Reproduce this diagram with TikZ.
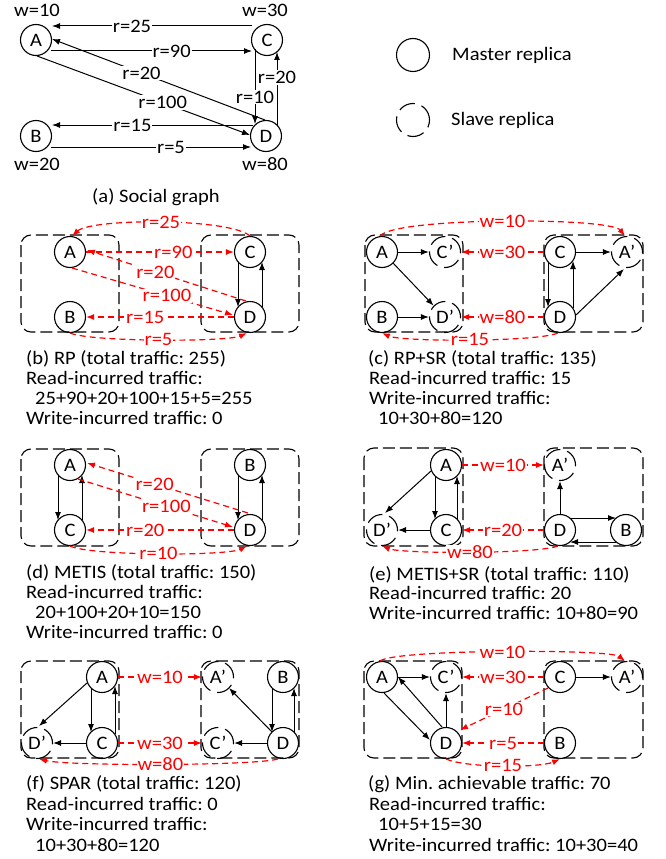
\documentclass[tikz,border=0pt]{standalone}
\usepackage{fontspec}
\setmainfont{Carlito}[FakeStretch=1.08]
\usetikzlibrary{arrows.meta,calc}
\frenchspacing
\begin{document}
\begin{tikzpicture}[x=1pt,y=-1pt,
  every node/.style={font=\fontsize{19}{20}\selectfont\frenchspacing},
  mst/.style={circle,draw,line width=1.1pt,minimum size=31pt,inner sep=0pt},
  slv/.style={mst,dash pattern=on 17pt off 7pt},
  grp/.style={draw,line width=1.1pt,dash pattern=on 12pt off 5pt,rounded corners=10pt},
  arr/.style={line width=1pt,-{Latex[length=8pt,width=6pt]}},
  rarr/.style={red,line width=1.2pt,dash pattern=on 6pt off 4pt,-{Latex[length=8pt,width=6pt]}},
  lab/.style={text=red,fill=white,inner sep=1pt},
  blab/.style={fill=white,inner sep=1pt},
  txt/.style={anchor=base west,inner sep=0pt},
  ctxt/.style={anchor=base,inner sep=0pt}]
\useasboundingbox (0,0) rectangle (665,859);

% ---------------- (a) social graph ----------------
\node[mst] (A) at (36,40) {A};
\node[mst] (C) at (267,40) {C};
\node[mst] (B) at (36,136) {B};
\node[mst] (D) at (266,136) {D};
\node[ctxt] (wA) at (37,17) {w=10};
\node[ctxt] (wC) at (265,17) {w=30};
\node[ctxt] (wB) at (37,170) {w=20};
\node[ctxt] (wD) at (265,170) {w=80};
\node[ctxt] (capa) at (156,202) {(a) Social graph};
\draw[arr] ($(C)+(-15,-14)$) -- node[blab,pos=0.6] (a1) {r=25} ($(A)+(16,-14)$);
\draw[arr] ($(A)+(15,11)$) -- node[blab,pos=0.6] (a2) {r=90} ($(C)+(-15,11)$);
\draw[arr] ($(D)+(-1,-16)$) -- node[blab,pos=0.58] (a3) {r=20} ($(A)+(16,-1)$);
\draw[arr] ($(A)+(1,16)$) -- node[blab,pos=0.59] (a4) {r=100} ($(D)+(-16,-1)$);
\draw[arr] ($(C)+(-12,9)$) -- node[blab,pos=0.64] (a5) {r=10} ($(D)+(-11,-12)$);
\draw[arr] ($(D)+(11,-11)$) -- node[blab,pos=0.65] (a6) {r=20} ($(C)+(10,12)$);
\draw[arr] ($(D)+(-13,-11)$) -- node[blab,pos=0.6] (a7) {r=15} ($(B)+(16,-11)$);
\draw[arr] ($(B)+(15,11)$) -- node[blab,pos=0.6] (a8) {r=5} ($(D)+(-15,11)$);

% ---------------- legend ----------------
\node[mst,minimum size=33pt] (lm) at (413,55) {};
\node[txt] (lmt) at (452,60) {Master replica};
\node[slv,minimum size=33pt] (ls) at (413,120) {};
\node[txt] (lst) at (451,125) {Slave replica};

% ---------------- (b) RP ----------------
\draw[grp] (21,235) rectangle (119,332);
\draw[grp] (201,235) rectangle (299,332);
\node[mst] (bA) at (70,252) {A};
\node[mst] (bB) at (70,317) {B};
\node[mst] (bC) at (250,252) {C};
\node[mst] (bD) at (250,317) {D};
\draw[arr] ($(bC)+(-12,10)$) -- ($(bD)+(-12,-10)$);
\draw[arr] ($(bD)+(12,-10)$) -- ($(bC)+(12,10)$);
\draw[rarr] ($(bC)+(0,-16)$) .. controls +(-20,-18) and +(20,-18) .. node[lab,pos=0.5] (b1) {r=25} ($(bA)+(2,-16)$);
\draw[rarr] (bA.east) -- node[lab,pos=0.59] (b2) {r=90} (bC.west);
\draw[rarr] ($(bD)+(-4,-16)$) -- node[lab,pos=0.57] (b3) {r=20} ($(bA)+(17,-2)$);
\draw[rarr] ($(bA)+(2,16)$) -- node[lab,pos=0.59] (b4) {r=100} ($(bD)+(-17,-2)$);
\draw[rarr] (bD.west) -- node[lab,pos=0.6] (b5) {r=15} (bB.east);
\draw[rarr] ($(bB)+(0,16)$) .. controls +(20,9) and +(-20,9) .. node[lab,pos=0.5,inner ysep=0pt] (b6) {r=5} ($(bD)+(-3,16)$);
\node[txt] (bt1) at (26,364) {(b) RP (total traffic: 255)};
\node[txt] (bt2) at (26,384) {Read-incurred traffic:};
\node[txt] (bt3) at (35,404) {25+90+20+100+15+5=255};
\node[txt] (bt4) at (26,424) {Write-incurred traffic: 0};

% ---------------- (c) RP+SR ----------------
\draw[grp] (365,235) rectangle (463,332);
\draw[grp] (544,235) rectangle (643,332);
\node[mst] (cA) at (382,252) {A};
\node[slv] (cCp) at (445,252) {C’};
\node[mst] (cB) at (382,317) {B};
\node[slv] (cDp) at (445,317) {D’};
\node[mst] (cC) at (560,252) {C};
\node[slv] (cAp) at (627,252) {A’};
\node[mst] (cD) at (560,317) {D};
\draw[arr] (cA.east) -- (cCp.west);
\draw[arr] (cA.south east) -- (cDp.north west);
\draw[arr] (cB.east) -- (cDp.west);
\draw[arr] ($(cC)+(-12,10)$) -- ($(cD)+(-12,-10)$);
\draw[arr] ($(cD)+(13,-9)$) -- ($(cC)+(13,9)$);
\draw[arr] (cC.east) -- (cAp.west);
\draw[arr] ($(cD)+(16,-2)$) -- ($(cAp)+(-3,17)$);
\draw[rarr] ($(cA)+(-2,-16)$) .. controls +(15,-19) and +(-15,-19) .. node[lab,pos=0.5] (c1) {w=10} ($(cAp)+(-2,-16)$);
\draw[rarr] (cC.west) -- node[lab,pos=0.5] (c2) {w=30} (cCp.east);
\draw[rarr] (cD.west) -- node[lab,pos=0.5] (c3) {w=80} (cDp.east);
\draw[rarr] ($(cD)+(-2,16)$) .. controls +(-20,9) and +(20,9) .. node[lab,pos=0.5,inner ysep=0pt] (c4) {r=15} ($(cB)+(0,16)$);
\node[txt] (ct1) at (368,364) {(c) RP+SR (total traffic: 135)};
\node[txt] (ct2) at (369,384) {Read-incurred traffic: 15};
\node[txt] (ct3) at (369,404) {Write-incurred traffic:};
\node[txt] (ct4) at (378,424) {10+30+80=120};

% ---------------- (d) METIS ----------------
\draw[grp] (21,449) rectangle (119,546);
\draw[grp] (201,449) rectangle (299,546);
\node[mst] (dA) at (70,465) {A};
\node[mst] (dC) at (70,530) {C};
\node[mst] (dB) at (250,465) {B};
\node[mst] (dD) at (250,530) {D};
\draw[arr] ($(dA)+(-12,10)$) -- ($(dC)+(-12,-10)$);
\draw[arr] ($(dC)+(12,-10)$) -- ($(dA)+(12,10)$);
\draw[arr] ($(dB)+(-12,10)$) -- ($(dD)+(-12,-10)$);
\draw[arr] ($(dD)+(12,-10)$) -- ($(dB)+(12,10)$);
\draw[rarr] ($(dD)+(-2,-17)$) -- node[lab,pos=0.58] (d1) {r=20} ($(dA)+(17,-2)$);
\draw[rarr] ($(dA)+(8,14)$) -- node[lab,pos=0.57] (d2) {r=100} ($(dD)+(-17,-3)$);
\draw[rarr] (dD.west) -- node[lab,pos=0.6] (d3) {r=20} (dC.east);
\draw[rarr] ($(dC)+(0,16)$) .. controls +(20,10) and +(-20,10) .. node[lab,pos=0.5,inner ysep=0pt] (d4) {r=10} ($(dD)+(-3,16)$);
\node[txt] (dt1) at (26,578) {(d) METIS (total traffic: 150)};
\node[txt] (dt2) at (26,598) {Read-incurred traffic:};
\node[txt] (dt3) at (35,618) {20+100+20+10=150};
\node[txt] (dt4) at (26,638) {Write-incurred traffic: 0};

% ---------------- (e) METIS+SR ----------------
\draw[grp] (364,448) rectangle (463,546);
\draw[grp] (544,448) rectangle (643,546);
\node[mst] (eA) at (446,465) {A};
\node[mst] (eC) at (446,530) {C};
\node[slv] (eDp) at (382,530) {D’};
\node[slv] (eAp) at (560,465) {A’};
\node[mst] (eD) at (560,530) {D};
\node[mst] (eB) at (626,530) {B};
\draw[arr] ($(eA)+(-15,6)$) -- ($(eDp)+(3,-17)$);
\draw[arr] ($(eA)+(-11,11)$) -- ($(eC)+(-11,-11)$);
\draw[arr] ($(eC)+(11,-11)$) -- ($(eA)+(11,11)$);
\draw[arr] (eC.west) -- (eDp.east);
\draw[arr] (eD.north) -- (eAp.south);
\draw[arr] ($(eD)+(10,-12)$) -- ($(eB)+(-10,-12)$);
\draw[arr] ($(eB)+(-10,12)$) -- ($(eD)+(10,12)$);
\draw[rarr] (eA.east) -- node[lab,pos=0.5] (e1) {w=10} (eAp.west);
\draw[rarr] (eD.west) -- node[lab,pos=0.5] (e2) {r=20} (eC.east);
\draw[rarr] ($(eD)+(-2,16)$) .. controls +(-20,8) and +(20,8) .. node[lab,pos=0.5,inner ysep=0pt] (e3) {w=80} ($(eDp)+(0,16)$);
\node[txt] (et1) at (369,580) {(e) METIS+SR (total traffic: 110)};
\node[txt] (et2) at (369,599) {Read-incurred traffic: 20};
\node[txt] (et3) at (369,619) {Write-incurred traffic: 10+80=90};

% ---------------- (f) SPAR ----------------
\draw[grp] (21,661) rectangle (119,758);
\draw[grp] (201,661) rectangle (299,758);
\node[mst] (fA) at (102,677) {A};
\node[mst] (fC) at (102,743) {C};
\node[slv] (fDp) at (37,743) {D’};
\node[slv] (fAp) at (218,677) {A’};
\node[mst] (fB) at (283,677) {B};
\node[slv] (fCp) at (218,743) {C’};
\node[mst] (fD) at (283,743) {D};
\draw[arr] ($(fA)+(-15,6)$) -- ($(fDp)+(2,-17)$);
\draw[arr] ($(fA)+(-11,11)$) -- ($(fC)+(-11,-11)$);
\draw[arr] ($(fC)+(13,-9)$) -- ($(fA)+(13,9)$);
\draw[arr] (fC.west) -- (fDp.east);
\draw[arr] ($(fD)+(-11,-11)$) -- ($(fAp)+(11,11)$);
\draw[arr] ($(fB)+(-11,11)$) -- ($(fD)+(-11,-11)$);
\draw[arr] ($(fD)+(11,-11)$) -- ($(fB)+(11,11)$);
\draw[arr] (fD.west) -- (fCp.east);
\draw[rarr] (fA.east) -- node[lab,pos=0.5] (f1) {w=10} (fAp.west);
\draw[rarr] (fC.east) -- node[lab,pos=0.5] (f2) {w=30} (fCp.west);
\draw[rarr] ($(fD)+(-5,16)$) .. controls +(-25,7) and +(30,7) .. node[lab,pos=0.5,inner ysep=0pt] (f3) {w=80} ($(fDp)+(2,16)$);
\node[txt] (ft1) at (26,789) {(f) SPAR (total traffic: 120)};
\node[txt] (ft2) at (26,810) {Read-incurred traffic: 0};
\node[txt] (ft3) at (26,830) {Write-incurred traffic:};
\node[txt] (ft4) at (35,851) {10+30+80=120};

% ---------------- (g) minimum ----------------
\draw[grp] (364,661) rectangle (462,758);
\draw[grp] (544,661) rectangle (643,758);
\node[mst] (gA) at (382,677) {A};
\node[slv] (gCp) at (446,677) {C’};
\node[mst] (gD) at (446,743) {D};
\node[mst] (gC) at (560,677) {C};
\node[slv] (gAp) at (627,677) {A’};
\node[mst] (gB) at (560,743) {B};
\draw[arr] (gA.east) -- (gCp.west);
\draw[arr] ($(gA)+(2,16)$) -- ($(gD)+(-16,-3)$);
\draw[arr] ($(gD)+(-4,-16)$) -- (gA.east);
\draw[arr] (gD.north) -- (gCp.south);
\draw[arr] (gC.east) -- (gAp.west);
\draw[rarr] ($(gA)+(-2,-16)$) .. controls +(15,-12) and +(-15,-12) .. node[lab,pos=0.5] (g1) {w=10} ($(gAp)+(-2,-16)$);
\draw[rarr] (gC.west) -- node[lab,pos=0.5] (g2) {w=30} (gCp.east);
\draw[rarr] ($(gC)+(-12,11)$) -- node[lab,pos=0.5] (g3) {r=10} ($(gD)+(14,-13)$);
\draw[rarr] (gB.west) -- node[lab,pos=0.5] (g4) {r=5} (gD.east);
\draw[rarr] ($(gD)+(0,16)$) .. controls +(20,9) and +(-20,9) .. node[lab,pos=0.5,inner ysep=0pt] (g5) {r=15} ($(gB)+(0,16)$);
\node[txt] (gt1) at (368,789) {(g) Min. achievable traffic: 70};
\node[txt] (gt2) at (369,810) {Read-incurred traffic:};
\node[txt] (gt3) at (378,830) {10+5+15=30};
\node[txt] (gt4) at (369,851) {Write-incurred traffic: 10+30=40};
\end{tikzpicture}
\end{document}
